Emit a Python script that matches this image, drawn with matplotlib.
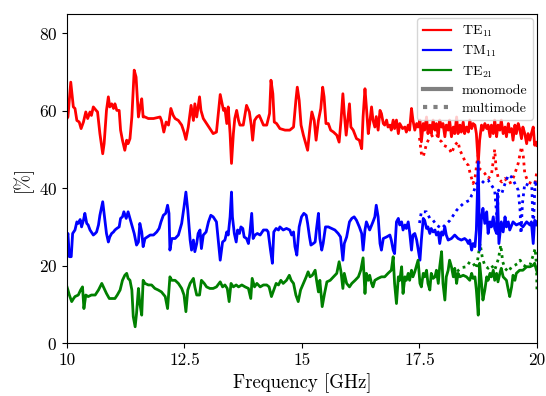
import matplotlib
matplotlib.use("Agg")
import matplotlib.pyplot as plt
from matplotlib.lines import Line2D

plt.rcParams['font.family'] = 'serif'
plt.rcParams['font.serif'] = ['cmr10']
plt.rcParams['mathtext.fontset'] = 'cm'
plt.rcParams['axes.formatter.use_mathtext'] = True

# ---------------- data ----------------
te11_freq = [10.00, 10.02, 10.08, 10.135, 10.17, 10.21, 10.26, 10.30, 10.35, 10.40, 10.44, 10.49, 10.52, 10.56,
             10.62, 10.65, 10.70, 10.76, 10.79, 10.84, 10.88, 10.91, 10.95, 10.99, 11.02, 11.06, 11.11,
             11.14, 11.18, 11.23, 11.27, 11.30, 11.34, 11.38, 11.43, 11.47, 11.52, 11.55, 11.59, 11.62,
             11.66, 11.73, 11.84, 11.98, 12.01, 12.06, 12.11, 12.16, 12.21, 12.26, 12.30, 12.37, 12.44,
             12.49, 12.53, 12.58, 12.64, 12.69, 12.72, 12.76, 12.82, 12.85, 12.90, 12.97, 13.04, 13.11,
             13.18, 13.26,
             13.33, 13.36, 13.40, 13.43, 13.47, 13.50, 13.54, 13.57, 13.61, 13.65, 13.68, 13.75, 13.82,
             13.88, 13.92, 13.95, 13.99, 14.04, 14.09, 14.12, 14.18, 14.25, 14.31, 14.34, 14.38, 14.41,
             14.46, 14.53, 14.64, 14.74, 14.82, 14.87, 14.90, 14.94, 14.98, 15.03, 15.08, 15.12, 15.17,
             15.21, 15.26, 15.30, 15.35, 15.40, 15.44, 15.47, 15.51, 15.56, 15.61, 15.67, 15.74, 15.79,
             15.83, 15.87, 15.90, 15.94, 15.97, 16.01, 16.04, 16.09, 16.13, 16.16, 16.22,
             16.27, 16.30, 16.34, 16.37, 16.41, 16.44, 16.48, 16.51, 16.55, 16.58, 16.62, 16.66, 16.69,
             16.73, 16.76, 16.80, 16.83, 16.87, 16.90, 16.94, 16.97, 17.01, 17.05, 17.08, 17.14, 17.19,
             17.22, 17.26, 17.29, 17.33, 17.36, 17.40, 17.44, 17.47, 17.51, 17.54, 17.58, 17.61, 17.65,
             17.68, 17.72, 17.75, 17.79, 17.83, 17.86, 17.90, 17.93, 17.97, 18.00, 18.04, 18.07, 18.11,
             18.14, 18.18, 18.22, 18.25, 18.29, 18.32, 18.36, 18.39, 18.43, 18.46, 18.50, 18.54, 18.57,
             18.61, 18.64, 18.68, 18.71, 18.75, 18.78, 18.82, 18.85, 18.89, 18.93, 18.96, 19.00, 19.03,
             19.07, 19.10, 19.14, 19.17, 19.21, 19.24, 19.28, 19.32, 19.35, 19.39, 19.42, 19.46, 19.49,
             19.53, 19.56, 19.60, 19.63, 19.67, 19.70, 19.74, 19.78, 19.81, 19.85, 19.88, 19.92, 19.95,
             19.99, 20.00]
te11_mono = [58.0, 58.4, 67.4, 61.0, 60.6, 57.5, 57.1, 55.4, 57.1, 59.7, 58.0, 59.7, 58.8, 61.0,
             60.1, 59.7, 54.1, 48.9, 51.5, 60.1, 63.6, 61.0, 61.8, 60.6, 61.8, 60.1, 60.1,
             55.0, 52.4, 49.8, 52.4, 51.5, 52.8, 58.4, 70.5, 68.7, 58.4, 60.6, 63.1, 58.4,
             58.4, 58.0, 58.0, 58.4, 57.5, 54.5, 57.1, 56.3, 60.6, 58.8, 58.0, 57.5, 56.3,
             54.5, 52.6, 55.8, 61.4, 57.5, 61.8, 58.4, 63.6, 60.1, 58.0, 56.7, 55.4, 54.1,
             54.5, 64.2,
             60.1, 60.6, 56.7, 61.0, 54.1, 46.4, 54.1, 58.0, 60.1, 57.5, 56.3, 56.3, 61.4,
             59.7, 56.3, 52.4, 57.5, 58.4, 58.8, 58.0, 56.3, 56.3, 59.3, 67.9, 64.4, 57.1,
             56.7, 55.4, 55.0, 55.0, 55.8, 62.7, 66.1, 62.7, 56.3, 53.7, 51.5, 49.8, 55.8,
             59.7, 57.5, 52.4, 57.5, 60.6, 66.1, 63.6, 56.7, 56.7, 55.0, 54.5, 53.7, 51.9,
             57.5, 64.4, 59.3, 53.7, 57.1, 61.8, 55.8, 55.0, 53.7, 52.8, 52.4,
             50.2, 58.5, 65.7, 61.0, 54.1, 56.7, 61.0, 57.6, 55.8, 58.5, 55.0, 60.1, 59.3,
             56.7, 56.3, 57.6, 55.8, 56.3, 55.0, 57.6, 55.4, 57.6, 54.1, 56.7, 55.4, 55.8,
             54.5, 56.3, 55.0, 60.6, 57.6, 55.0, 56.7, 55.8, 57.6, 52.0, 56.7, 55.0, 58.4,
             54.1, 56.3, 54.1, 57.6, 55.0, 56.7, 53.3, 57.6, 55.8, 56.7, 53.3, 56.3, 55.0,
             57.6, 53.3, 55.8, 54.1, 58.4, 54.1, 56.3, 54.5, 57.1, 54.1, 55.8, 54.5, 57.6,
             55.4, 56.7, 56.3, 54.1, 46.4, 52.4, 56.3, 55.0, 56.7, 55.4, 56.3, 53.3, 56.3,
             54.1, 57.6, 53.3, 56.3, 55.0, 57.6, 54.1, 55.8, 53.3, 56.7, 54.5, 55.4, 52.4,
             56.3, 54.1, 56.7, 55.4, 52.8, 55.8, 54.1, 51.5, 54.1, 52.4, 54.1, 55.8, 51.1,
             51.9, 51.0]

tm11_freq = [10.00, 10.02, 10.05, 10.09, 10.12, 10.17, 10.21, 10.24, 10.28, 10.31, 10.35, 10.38, 10.42,
             10.45, 10.49, 10.56, 10.60, 10.63, 10.67, 10.70, 10.76, 10.79, 10.84, 10.88, 10.91, 10.95,
             10.99, 11.02, 11.06, 11.11, 11.14, 11.18, 11.21, 11.26, 11.30, 11.34, 11.38, 11.43, 11.48,
             11.52, 11.55, 11.59, 11.62, 11.66, 11.71, 11.77, 11.84, 11.91, 11.96, 12.00, 12.05, 12.10,
             12.14, 12.17, 12.19, 12.23, 12.30, 12.37, 12.44, 12.49, 12.53, 12.57, 12.62, 12.65, 12.69,
             12.72, 12.76, 12.79, 12.83, 12.86, 12.90, 12.96, 13.01, 13.06, 13.11, 13.18, 13.26,
             13.31, 13.36, 13.40, 13.43, 13.47, 13.50, 13.52, 13.56, 13.60, 13.63, 13.67, 13.70, 13.74,
             13.77, 13.82, 13.86, 13.89, 13.93, 13.96, 14.00, 14.05, 14.11, 14.18, 14.25, 14.28, 14.33,
             14.37, 14.40, 14.45, 14.50, 14.53, 14.60, 14.67, 14.74, 14.78, 14.82, 14.85, 14.89, 14.94,
             14.99, 15.04, 15.09, 15.12, 15.16, 15.19, 15.24, 15.28, 15.31, 15.35, 15.38, 15.42, 15.45,
             15.50, 15.56, 15.63, 15.70, 15.77, 15.82, 15.87, 15.90, 15.95, 16.01, 16.06, 16.11, 16.16,
             16.22,
             16.27, 16.30, 16.34, 16.37, 16.44, 16.51, 16.55, 16.58, 16.62, 16.66, 16.69, 16.73, 16.80,
             16.87, 16.90, 16.94, 16.97, 17.01, 17.05, 17.08, 17.12, 17.15, 17.19, 17.22, 17.26, 17.29,
             17.33, 17.36, 17.40, 17.44, 17.47, 17.51, 17.54, 17.58, 17.61, 17.65, 17.68, 17.72, 17.75,
             17.79, 17.83, 17.86, 17.90, 17.93, 17.97, 18.00, 18.04, 18.07, 18.11, 18.18, 18.25, 18.32,
             18.39, 18.46, 18.50, 18.54, 18.57, 18.61, 18.64, 18.68, 18.71, 18.75, 18.78, 18.82, 18.85,
             18.89, 18.93, 18.96, 19.00, 19.03, 19.07, 19.10, 19.14, 19.16, 19.19, 19.24, 19.28, 19.32,
             19.35, 19.39, 19.42, 19.49, 19.56, 19.63, 19.70, 19.78, 19.85, 19.88, 19.92, 19.95, 19.99,
             20.00]
tm11_mono = [27.0, 28.3, 22.3, 22.3, 28.3, 29.2, 31.3, 30.9, 31.9, 30.0, 31.7, 33.5, 30.9,
             30.5, 29.2, 27.9, 28.3, 28.7, 30.5, 33.0, 36.5, 33.5, 28.3, 26.1, 27.4, 28.3,
             28.7, 29.2, 29.6, 30.0, 32.2, 32.6, 33.9, 32.2, 33.9, 32.2, 30.5, 28.3, 25.3,
             26.1, 30.9, 28.7, 24.9, 27.0, 27.4, 27.9, 27.9, 28.7, 29.6, 31.3, 33.0, 33.5,
             35.6, 33.5, 24.0, 27.0, 27.0, 27.9, 30.9, 35.2, 39.0, 34.3, 26.6, 24.0, 26.6,
             23.6, 25.7, 28.3, 29.2, 24.4, 27.9, 28.7, 31.3, 33.0, 32.6, 31.3, 21.4,
             26.1, 26.6, 28.7, 27.9, 32.6, 39.0, 32.6, 28.3, 26.1, 29.2, 28.3, 30.0, 29.6,
             27.4, 27.0, 25.7, 28.3, 33.5, 27.0, 27.9, 28.3, 27.9, 29.2, 29.2, 28.7, 24.0,
             20.6, 28.7, 29.6, 29.2, 30.0, 29.2, 29.6, 29.2, 27.9, 28.7, 24.9, 22.7, 30.0,
             32.6, 33.5, 33.0, 30.9, 27.4, 25.3, 25.7, 26.1, 29.6, 33.5, 27.0, 24.0, 25.7,
             30.0, 30.0, 29.6, 29.2, 28.3, 27.4, 21.4, 25.7, 27.4, 31.3, 32.2, 32.6, 31.7,
             30.0,
             28.3, 24.0, 29.2, 31.3, 29.2, 31.3, 32.6, 35.6, 32.6, 25.7, 24.0, 27.0, 27.4,
             27.9, 26.6, 24.0, 23.1, 31.3, 32.2, 30.5, 31.3, 29.2, 30.5, 29.6, 31.3, 28.7,
             24.0, 27.9, 28.3, 26.6, 24.4, 21.4, 26.6, 32.2, 31.7, 29.6, 30.0, 28.3, 29.6,
             28.7, 29.2, 27.9, 28.7, 25.7, 28.7, 27.9, 30.0, 27.9, 26.6, 27.0, 27.9, 27.0,
             26.6, 27.0, 26.6, 25.7, 26.6, 24.0, 25.7, 24.9, 29.2, 46.8, 24.0, 32.6, 34.8,
             30.9, 33.9, 28.3, 31.3, 30.0, 32.6, 29.6, 28.3, 38.6, 25.7, 31.3, 28.7, 32.6,
             30.0, 31.3, 29.2, 31.3, 30.5, 30.9, 30.0, 31.3, 30.5, 31.3, 25.7, 31.7, 31.3,
             30.5]

te21_freq = [10.00, 10.02, 10.05, 10.10, 10.14, 10.17, 10.24, 10.29, 10.33, 10.36, 10.40, 10.45, 10.52,
             10.60, 10.67, 10.74, 10.79, 10.84, 10.90, 10.95, 11.02, 11.07, 11.13, 11.18, 11.23, 11.27,
             11.30, 11.34, 11.38, 11.41, 11.45, 11.48, 11.52, 11.55, 11.59, 11.62, 11.66, 11.73, 11.80,
             11.87, 11.94, 12.01, 12.09, 12.14, 12.19, 12.23, 12.30, 12.37, 12.44, 12.49, 12.53, 12.57,
             12.62, 12.69, 12.72, 12.76, 12.82, 12.86, 12.92, 12.97, 13.04, 13.11, 13.18, 13.26,
             13.31, 13.36, 13.41, 13.45, 13.49, 13.54, 13.60, 13.65, 13.72, 13.79, 13.86, 13.91, 13.94,
             13.99, 14.04, 14.11, 14.18, 14.25, 14.30, 14.35, 14.40, 14.45, 14.50, 14.55, 14.60, 14.67,
             14.73, 14.77, 14.82, 14.87, 14.92, 14.97, 15.03, 15.09, 15.13, 15.17, 15.22, 15.28, 15.31,
             15.35, 15.38, 15.43, 15.48, 15.53, 15.60, 15.67, 15.74, 15.79, 15.83, 15.87, 15.90, 15.95,
             16.01, 16.06, 16.13, 16.20,
             16.25, 16.30, 16.34, 16.37, 16.41, 16.44, 16.48, 16.51, 16.55, 16.62, 16.69, 16.76, 16.83,
             16.90, 16.94, 16.97, 17.01, 17.05, 17.08, 17.12, 17.15, 17.19, 17.22, 17.26, 17.29, 17.33,
             17.36, 17.40, 17.44, 17.47, 17.51, 17.54, 17.58, 17.61, 17.65, 17.68, 17.72, 17.75, 17.79,
             17.83, 17.86, 17.90, 17.93, 17.97, 18.00, 18.04, 18.07, 18.11, 18.14, 18.18, 18.22, 18.25,
             18.29, 18.32, 18.36, 18.43, 18.50, 18.57, 18.61, 18.64, 18.68, 18.71, 18.75, 18.78, 18.82,
             18.85, 18.89, 18.93, 18.96, 19.00, 19.03, 19.07, 19.10, 19.14, 19.17, 19.21, 19.24, 19.28,
             19.35, 19.39, 19.42, 19.46, 19.49, 19.53, 19.56, 19.63, 19.70, 19.78, 19.85, 19.92, 19.95,
             19.99, 20.00]
te21_mono = [14.5, 13.7, 12.4, 10.7, 11.5, 12.0, 12.4, 13.7, 14.5, 8.9, 12.4, 12.0, 12.4,
             12.4, 13.7, 15.4, 14.1, 12.8, 11.5, 11.5, 11.5, 12.4, 13.7, 16.2, 17.5, 18.0,
             16.7, 16.2, 13.7, 6.8, 4.2, 7.7, 14.1, 10.2, 7.2, 16.2, 15.4, 15.0, 15.0,
             14.1, 13.7, 13.2, 12.0, 8.9, 17.1, 16.2, 16.2, 15.4, 14.1, 12.4, 8.1, 13.7,
             15.4, 16.7, 14.5, 12.4, 12.4, 16.2, 15.4, 14.5, 14.1, 14.1, 14.5, 15.8,
             14.5, 15.0, 14.1, 10.7, 15.4, 14.5, 15.0, 14.5, 15.0, 14.5, 14.1, 11.5, 16.7,
             14.5, 15.4, 14.5, 15.0, 15.0, 14.5, 12.0, 13.7, 15.4, 15.0, 16.2, 15.4, 16.2,
             17.5, 16.2, 15.4, 12.4, 10.7, 13.7, 15.4, 17.1, 18.4, 17.1, 17.5, 18.8, 16.2,
             13.2, 16.2, 9.4, 12.8, 15.8, 16.2, 17.1, 18.0, 21.0, 18.4, 14.1, 18.0, 15.4,
             14.5, 15.4, 16.2, 17.1,
             18.8, 22.0, 12.8, 18.0, 16.2, 17.5, 15.4, 14.5, 16.2, 16.7, 17.1, 17.1, 18.0,
             18.8, 22.3, 15.4, 10.2, 17.1, 16.2, 19.7, 12.8, 17.1, 16.2, 18.0, 16.2, 18.8,
             17.1, 18.4, 20.1, 21.4, 15.4, 14.5, 18.0, 17.1, 18.8, 15.4, 13.7, 18.0, 16.7,
             17.1, 18.8, 15.4, 19.7, 23.6, 15.4, 11.1, 17.1, 18.8, 21.4, 19.7, 17.1, 19.3,
             15.4, 18.0, 17.1, 17.5, 17.1, 16.2, 18.0, 16.7, 17.1, 13.7, 7.2, 20.6, 15.4,
             11.1, 13.7, 17.1, 16.2, 18.0, 17.1, 18.8, 16.2, 18.0, 15.8, 18.0, 19.3, 17.1,
             16.2, 13.7, 12.0, 14.5, 17.5, 16.2, 18.0, 18.8, 18.8, 19.7, 19.7, 20.1, 20.6,
             18.8, 18.5]

te11_multi_freq = [17.50, 17.54, 17.58, 17.65, 17.72, 17.79, 17.86, 17.90, 17.97, 18.01, 18.08, 18.15,
                   18.18, 18.25, 18.32, 18.36, 18.43, 18.47, 18.54, 18.57, 18.61, 18.64, 18.68, 18.72,
                   18.75, 18.78, 18.82, 18.89, 18.96, 19.03, 19.08, 19.10, 19.13, 19.18, 19.25, 19.32,
                   19.39, 19.46, 19.53, 19.60, 19.64, 19.67, 19.71, 19.74, 19.81, 19.89, 19.96, 20.00]
te11_multi = [53.0, 49.0, 48.1, 51.5, 53.2, 53.7, 54.1, 52.8, 52.0, 51.1, 50.7, 49.8,
              49.0, 51.1, 52.0, 49.8, 48.1, 46.8, 45.9, 44.2, 42.5, 41.2, 42.5, 46.4,
              48.5, 45.0, 44.6, 43.8, 42.5, 43.4, 48.0, 50.0, 45.0, 42.5, 41.6, 42.5,
              41.2, 41.6, 43.8, 46.4, 48.9, 50.7, 48.1, 43.8, 41.6, 41.2, 41.2, 44.6]

tm11_multi_freq = [17.50, 17.54, 17.65, 17.72, 17.79, 17.86, 17.97, 18.08, 18.15, 18.22, 18.29, 18.36,
                   18.43, 18.50, 18.57, 18.61, 18.64, 18.71, 18.82, 18.89, 18.96, 19.03, 19.10, 19.15,
                   19.18, 19.25, 19.32, 19.39, 19.46, 19.53, 19.60, 19.64, 19.66, 19.69, 19.74, 19.81,
                   19.89, 19.92, 19.96, 20.00]
tm11_multi = [31.0, 33.9, 33.9, 32.2, 31.7, 30.5, 29.6, 30.9, 31.7, 33.0, 34.3, 35.2,
              36.0, 36.5, 36.9, 38.2, 38.6, 41.2, 41.2, 42.1, 42.1, 40.8, 39.5, 32.0,
              39.5, 38.6, 41.2, 43.4, 42.9, 41.2, 39.5, 34.3, 28.3, 36.0, 41.2, 40.8,
              40.3, 29.0, 42.1, 39.5]

te21_multi_freq = [18.30, 18.40, 18.50, 18.57, 18.64, 18.71, 18.79, 18.84, 18.89, 18.96, 19.03, 19.10,
                   19.18, 19.23, 19.27, 19.32, 19.39, 19.46, 19.53, 19.60, 19.64, 19.71, 19.78, 19.85,
                   19.92, 19.96, 19.99, 20.00]
te21_multi = [18.5, 19.5, 19.7, 21.0, 20.6, 19.3, 25.7, 21.8, 20.1, 19.3, 20.1, 18.8,
              21.8, 25.3, 21.0, 19.3, 18.4, 19.7, 20.1, 20.6, 21.4, 20.1, 19.7, 20.1,
              22.7, 24.4, 20.1, 13.2]

mode_labels = ['TE$_{11}$', 'TM$_{11}$', 'TE$_{21}$']
mode_colors = ['red', 'blue', 'green']
x_ticks = [10, 12.5, 15, 17.5, 20]
x_tick_labels = ['10', '12.5', '15', '17.5', '20']
y_ticks = [0, 20, 40, 60, 80]

# ---------------- plot ----------------
fig = plt.figure(figsize=(5.46, 3.96), dpi=100)
ax = fig.add_axes([0.1227, 0.1338, 0.8608, 0.8308])

mono = [(te11_freq, te11_mono), (tm11_freq, tm11_mono), (te21_freq, te21_mono)]
multi = [(te11_multi_freq, te11_multi), (tm11_multi_freq, tm11_multi), (te21_multi_freq, te21_multi)]

for (f, v), c in zip(multi, mode_colors):
    ax.plot(f, v, color=c, lw=2.0, linestyle=(0, (1, 1.5)))
for (f, v), c in zip(mono, mode_colors):
    ax.plot(f, v, color=c, lw=2.0)

ax.set_xlim(10, 20)
ax.set_ylim(0, 85)
ax.set_xticks(x_ticks)
ax.set_xticklabels(x_tick_labels)
ax.set_yticks(y_ticks)
ax.tick_params(labelsize=12.5)
ax.set_xlabel('Frequency [GHz]', fontsize=13.5)
ax.set_ylabel('[%]', fontsize=13.5)

handles = [Line2D([], [], color=c, lw=1.6) for c in mode_colors]
handles += [Line2D([], [], color='gray', lw=3),
            Line2D([], [], color='gray', lw=3, linestyle=(0, (1, 1.5)))]
labels = mode_labels + ['monomode', 'multimode']
ax.legend(handles, labels, loc='upper right', fontsize=10, framealpha=0.8,
          borderaxespad=0.3, handlelength=2.0, labelspacing=0.35)

fig.savefig('out.png', dpi=100)
